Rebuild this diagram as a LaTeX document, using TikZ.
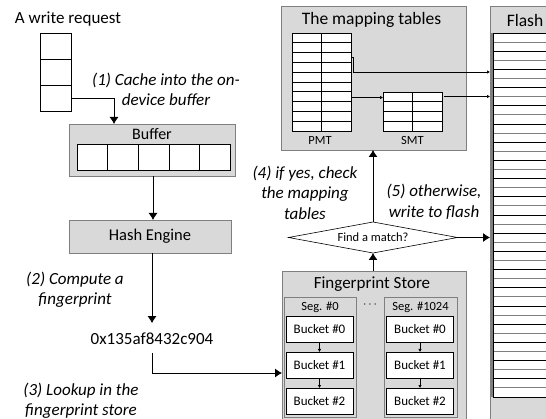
\documentclass[tikz,border=0pt]{standalone}
\usepackage{fontspec}
\setmainfont{Carlito}
\usetikzlibrary{arrows.meta,shapes.geometric,calc}
\definecolor{boxgray}{HTML}{D9D9D9}
\definecolor{edgegray}{HTML}{7F7F7F}
\tikzset{
  every node/.style={inner sep=0pt,outer sep=0pt},
  graybox/.style={draw=edgegray,fill=boxgray,line width=0.8pt},
  whitebox/.style={draw=black,fill=white,line width=0.6pt},
  arr/.style={line width=0.8pt,-{Latex[length=7pt,width=9pt]}},
  sarr/.style={line width=0.6pt,-{Latex[length=3pt,width=3.5pt]}},
  note/.style={font=\fontsize{17}{20.5}\selectfont\itshape,align=center},
  title/.style={font=\fontsize{17.5}{20}\selectfont},
  small/.style={font=\fontsize{12.5}{14}\selectfont},
}
\begin{document}
\begin{tikzpicture}[x=1pt,y=-1pt]
\useasboundingbox (0,0) rectangle (546,419);
% ---------- left column
\node[font=\fontsize{17}{20}\selectfont] (wrlabel) at (68,19) {A write request};
\node[whitebox,minimum width=31pt,minimum height=26pt] (req1) at (55.5,46) {};
\node[whitebox,minimum width=31pt,minimum height=26pt] (req2) at (55.5,72) {};
\node[whitebox,minimum width=31pt,minimum height=26pt] (req3) at (55.5,98) {};
\node[note] (n1) at (166,89.5) {(1) Cache into the on-\\device buffer};
\node[graybox,minimum width=166pt,minimum height=52pt] (buffer) at (152,150) {};
\node[font=\fontsize{16}{18}\selectfont] (buftitle) at (152,134.5) {Buffer};
\foreach \i in {0,...,4}{
  \node[whitebox,minimum width=30.6pt,minimum height=26pt] (cell\i) at ({92.3+30.6*\i},157) {};
}
\node[graybox,minimum width=162pt,minimum height=33pt,font=\fontsize{16.5}{18}\selectfont] (hash) at (150,236.5) {Hash Engine};
\node[note] (n2) at (75,289.5) {(2) Compute a\\fingerprint};
\node[font=\fontsize{17}{20}\selectfont] (fp) at (152,339) {0x135af8432c904};
\node[note] (n3) at (81,400.5) {(3) Lookup in the\\fingerprint store};
% ---------- mapping tables
\node[graybox,minimum width=185pt,minimum height=144pt] (map) at (373.5,78) {};
\node[title] (maptitle) at (371.5,20) {The mapping tables};
\node[whitebox,minimum width=59pt,minimum height=98pt] (pmt) at (321.5,82) {};
\foreach \i in {1,...,9}{\draw[line width=0.6pt] ($(pmt.north west)+(0,9.8*\i)$) -- ($(pmt.north east)+(0,9.8*\i)$);}
\draw[line width=0.6pt] (pmt.north) -- (pmt.south);
\node[small] (pmtl) at (320,140.5) {PMT};
\node[whitebox,minimum width=59pt,minimum height=39pt] (smt) at (412.5,111.5) {};
\foreach \i in {1,...,3}{\draw[line width=0.6pt] ($(smt.north west)+(0,9.75*\i)$) -- ($(smt.north east)+(0,9.75*\i)$);}
\draw[line width=0.6pt] (smt.north) -- (smt.south);
\node[small] (smtl) at (412.5,140.5) {SMT};
% ---------- flash
\node[graybox,minimum width=80pt,minimum height=430pt,anchor=north west] (flash) at (490,6) {};
\node[title] (flashtitle) at (525,20) {Flash};
\fill[white] (493,33) rectangle (560,397);
\foreach \i in {0,...,40}{
  \pgfmathsetmacro{\yy}{33+9.1*\i}
  \ifodd\i
    \draw[edgegray,line width=1pt] (493,\yy) -- (560,\yy);
  \else
    \draw[black,line width=0.7pt] (493,\yy) -- (560,\yy);
  \fi
}
\draw[black,line width=0.7pt] (493,33) -- (493,397) -- (560,397);
\draw[edgegray,line width=2pt] (491.5,33) -- (491.5,397);
% ---------- notes (4) (5)
\node[note] (n4) at (305,192.5) {(4) if yes, check\\the mapping\\tables};
\node[note] (n5) at (434,202) {(5) otherwise,\\write to flash};
% ---------- decision
\node[diamond,draw=black,fill=white,line width=0.6pt,aspect=5.45,minimum width=169pt,minimum height=31pt,small] (dia) at (373,237.5) {Find a match?};
% ---------- fingerprint store
\node[graybox,minimum width=184pt,minimum height=160pt,anchor=north west] (fps) at (282,271) {};
\node[font=\fontsize{17}{20}\selectfont] (fpstitle) at (372,284) {Fingerprint Store};
\node[graybox,minimum width=72pt,minimum height=120pt,anchor=north west] (seg0) at (284,297) {};
\node[graybox,minimum width=73pt,minimum height=120pt,anchor=north west] (seg1) at (384,297) {};
\node[small] (seg0t) at (320,307.5) {Seg. \#0};
\node[small] (seg1t) at (420.5,307.5) {Seg. \#1024};
\node[small] (dots) at (370,305) {$\cdots$};
\foreach \s/\x in {0/319.5,1/420}{
  \foreach \b/\y in {0/329,1/365,2/401}{
    \node[whitebox,minimum width=67pt,minimum height=26pt,font=\fontsize{13}{15}\selectfont] (b\s\b) at (\x,\y) {Bucket \#\b};
  }
  \draw[sarr] (b\s0.south) -- (b\s1.north);
  \draw[sarr] (b\s1.south) -- (b\s2.north);
}
% ---------- connectors
\draw[arr] (req3.east) -| ([xshift=-38pt]buffer.north);
\draw[arr] (buffer.south -| 153,0) -- (hash.north -| 153,0);
\draw[arr] (hash.south -| fp.north) -- ([yshift=10pt]fp.north);
\coordinate (fpin) at (282,373);
\draw[arr] ([yshift=-8pt]fp.south) |- (fpin);
\draw[arr] (fps.north -| dia.south) -- (dia.south);
\draw[arr] (dia.north) -- (dia.north |- map.south);
\draw[arr] (dia.east) -- (dia.east -| flash.west);
\coordinate (p3) at (351,57.5);
\coordinate (p3b) at (353.5,72);
\draw[sarr] (p3) -| (p3b) -- (p3b -| flash.west);
\coordinate (p7) at (351,97.5);
\draw[sarr] (p7) -- (p7 -| smt.west);
\coordinate (s1) at (444,96.5);
\draw[sarr] (s1) -- (s1 -| flash.west);
\end{tikzpicture}
\end{document}
